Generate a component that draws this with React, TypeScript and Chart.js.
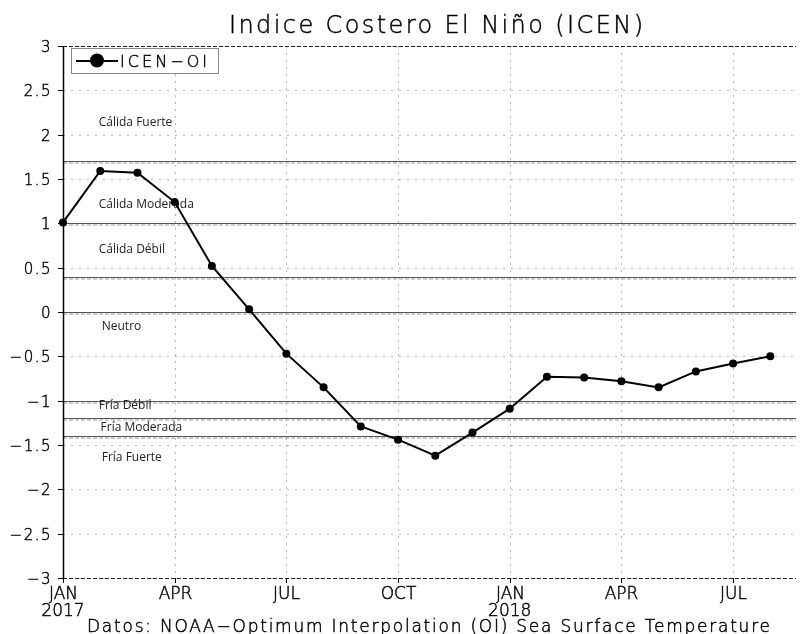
import React, { useEffect, useRef } from 'react';
import { Chart, registerables } from 'chart.js';
Chart.register(...registerables);

const monthIndex = [0, 1, 2, 3, 4, 5, 6, 7, 8, 9, 10, 11, 12, 13, 14, 15, 16, 17, 18, 19];
const icenValues = [1.01, 1.59, 1.57, 1.24, 0.52, 0.03, -0.47, -0.85, -1.29, -1.44, -1.62, -1.36, -1.09, -0.73, -0.74, -0.78, -0.85, -0.67, -0.58, -0.50];
const xTickPositions = [0, 3, 6, 9, 12, 15, 18];
const xTickLabels = ['JAN', 'APR', 'JUL', 'OCT', 'JAN', 'APR', 'JUL'];
const yearPositions = [0, 12];
const yearLabels = ['2017', '2018'];
const yTickValues = [3, 2.5, 2, 1.5, 1, 0.5, 0, -0.5, -1, -1.5, -2, -2.5, -3];
const yTickLabels = ['3', '2.5', '2', '1.5', '1', '0.5', '0', '\u22120.5', '\u22121', '\u22121.5', '\u22122', '\u22122.5', '\u22123'];
const thresholdValues = [1.7, 1.0, 0.4, 0, -1.0, -1.2, -1.4];
const zoneNames = ['Cálida Fuerte', 'Cálida Moderada', 'Cálida Débil', 'Neutro', 'Fría Débil', 'Fría Moderada', 'Fría Fuerte'];
const zoneYValues = [2.14, 1.21, 0.70, -0.16, -1.06, -1.30, -1.64];
const zoneXValues = [0.96, 0.96, 0.96, 1.04, 0.96, 1.01, 1.04];
const titleText = 'Indice Costero El Niño (ICEN)';
const footerText = 'Datos: NOAA\u2212Optimum Interpolation (OI) Sea Surface Temperature';
const seriesName = 'ICEN\u2212OI';

const THIN = '200';

function inkText(ctx: CanvasRenderingContext2D, text: string, x: number, y: number) {
  ctx.fillText(text, x, y);
  ctx.lineWidth = 0.45;
  ctx.strokeStyle = '#000';
  ctx.strokeText(text, x, y);
}

function drawSpaced(ctx: CanvasRenderingContext2D, text: string, x: number, y: number, targetWidth: number, align: 'left' | 'center') {
  (ctx as any).letterSpacing = '0px';
  const w = ctx.measureText(text).width;
  const ls = (targetWidth - w) / Math.max(1, text.length - 1);
  (ctx as any).letterSpacing = ls + 'px';
  const start = align === 'center' ? x - targetWidth / 2 : x;
  ctx.textAlign = 'left';
  inkText(ctx, text, start, y);
  (ctx as any).letterSpacing = '0px';
}

const decorPlugin = {
  id: 'decor',
  beforeDatasetsDraw(chart: any) {
    const ctx: CanvasRenderingContext2D = chart.ctx;
    const { left, right, top, bottom } = chart.chartArea;
    const xs = chart.scales.x;
    const ys = chart.scales.y;
    ctx.save();
    // dotted grid
    ctx.strokeStyle = '#b8b8b8';
    ctx.lineWidth = 1;
    ctx.setLineDash([2, 6]);
    yTickValues.forEach((v) => {
      const y = Math.round(ys.getPixelForValue(v)) + 0.5;
      ctx.beginPath();
      ctx.moveTo(left, y);
      ctx.lineTo(right, y);
      ctx.stroke();
    });
    ctx.setLineDash([2, 5]);
    xTickPositions.forEach((v) => {
      const x = Math.round(xs.getPixelForValue(v)) + 0.5;
      ctx.beginPath();
      ctx.moveTo(x, top);
      ctx.lineTo(x, bottom);
      ctx.stroke();
    });
    // threshold lines
    thresholdValues.forEach((v) => {
      const y = Math.round(ys.getPixelForValue(v)) + 0.5;
      ctx.setLineDash([4, 2]);
      ctx.strokeStyle = '#9a9a9a';
      ctx.beginPath();
      ctx.moveTo(left, y + 1.5);
      ctx.lineTo(right, y + 1.5);
      ctx.stroke();
      ctx.setLineDash([]);
      ctx.strokeStyle = '#555';
      ctx.beginPath();
      ctx.moveTo(left, y);
      ctx.lineTo(right, y);
      ctx.stroke();
    });
    // zone labels
    ctx.fillStyle = '#222';
    ctx.font = '12px "Open Sans", "Noto Sans", sans-serif';
    ctx.textBaseline = 'middle';
    ctx.textAlign = 'left';
    zoneNames.forEach((n, i) => {
      ctx.fillText(n, xs.getPixelForValue(zoneXValues[i]), ys.getPixelForValue(zoneYValues[i]));
    });
    // frame top/bottom dashed
    ctx.strokeStyle = '#222';
    ctx.lineWidth = 1;
    ctx.setLineDash([4, 2]);
    [top + 0.5, bottom + 0.5].forEach((y) => {
      ctx.beginPath();
      ctx.moveTo(left, y);
      ctx.lineTo(right, y);
      ctx.stroke();
    });
    ctx.setLineDash([]);
    ctx.strokeStyle = '#000';
    ctx.lineWidth = 1.5;
    ctx.beginPath();
    ctx.moveTo(left + 0.5, top);
    ctx.lineTo(left + 0.5, bottom);
    ctx.stroke();
    // y ticks
    ctx.fillStyle = '#000';
    ctx.font = `${THIN} 15px "DejaVu Sans", sans-serif`;
    ctx.textBaseline = 'alphabetic';
    yTickValues.forEach((v, i) => {
      const y = Math.round(ys.getPixelForValue(v)) + 0.5;
      ctx.lineWidth = 1;
      ctx.strokeStyle = '#000';
      ctx.beginPath();
      ctx.moveTo(left - 5, y);
      ctx.lineTo(left, y);
      ctx.stroke();
      (ctx as any).letterSpacing = '1.5px';
      ctx.textAlign = 'right';
      inkText(ctx, yTickLabels[i], left - 11, y + 5);
    });
    (ctx as any).letterSpacing = '0px';
    // x ticks
    ctx.font = `${THIN} 17px "DejaVu Sans", sans-serif`;
    ctx.textAlign = 'center';
    xTickPositions.forEach((v, i) => {
      const x = Math.round(xs.getPixelForValue(v)) + 0.5;
      ctx.lineWidth = 1;
      ctx.strokeStyle = '#000';
      ctx.beginPath();
      ctx.moveTo(x, bottom);
      ctx.lineTo(x, bottom + 5);
      ctx.stroke();
      inkText(ctx, xTickLabels[i], x, bottom + 21);
    });
    yearPositions.forEach((v, i) => {
      const x = xs.getPixelForValue(v);
      inkText(ctx, yearLabels[i], x, bottom + 38);
    });
    ctx.restore();
  },
  afterDraw(chart: any) {
    const ctx: CanvasRenderingContext2D = chart.ctx;
    ctx.save();
    ctx.fillStyle = '#000';
    ctx.textBaseline = 'alphabetic';
    ctx.font = `${THIN} 24px "DejaVu Sans", sans-serif`;
    drawSpaced(ctx, titleText, 436, 33, 414, 'center');
    ctx.font = `${THIN} 17px "DejaVu Sans", sans-serif`;
    drawSpaced(ctx, footerText, 87, 632, 683, 'left');
    // legend
    ctx.fillStyle = '#fff';
    ctx.fillRect(71, 48, 147, 25);
    ctx.strokeStyle = '#888';
    ctx.lineWidth = 1;
    ctx.strokeRect(71.5, 48.5, 147, 25);
    ctx.strokeStyle = '#000';
    ctx.lineWidth = 2;
    ctx.beginPath();
    ctx.moveTo(76, 61);
    ctx.lineTo(118, 61);
    ctx.stroke();
    ctx.fillStyle = '#000';
    ctx.beginPath();
    ctx.arc(97, 60.5, 7, 0, Math.PI * 2);
    ctx.fill();
    ctx.font = `${THIN} 16px "DejaVu Sans", sans-serif`;
    drawSpaced(ctx, seriesName, 120, 67, 87, 'left');
    ctx.restore();
  },
};

export default function App() {
  const ref = useRef<HTMLCanvasElement>(null);
  useEffect(() => {
    if (!ref.current) return;
    const chart = new Chart(ref.current, {
      type: 'line',
      data: {
        datasets: [
          {
            label: seriesName,
            data: monthIndex.map((m, i) => ({ x: m, y: icenValues[i] })),
            borderColor: '#000',
            backgroundColor: '#000',
            borderWidth: 2,
            pointRadius: 4,
            pointBackgroundColor: '#000',
            pointBorderWidth: 0,
            tension: 0,
            clip: false as any,
          },
        ],
      },
      options: {
        responsive: false,
        animation: false,
        devicePixelRatio: 1,
        layout: { padding: { left: 63, top: 46, right: 0, bottom: 56 } },
        plugins: { legend: { display: false }, tooltip: { enabled: false }, title: { display: false } },
        scales: {
          x: { type: 'linear', min: 0, max: 19.69, display: false },
          y: { type: 'linear', min: -3, max: 3, display: false },
        },
      },
      plugins: [decorPlugin],
    });
    return () => chart.destroy();
  }, []);
  return (
    <canvas
      ref={ref}
      width={800}
      height={634}
      style={{ position: 'absolute', left: 0, top: 0, width: 800, height: 634, background: '#fff' }}
    />
  );
}
